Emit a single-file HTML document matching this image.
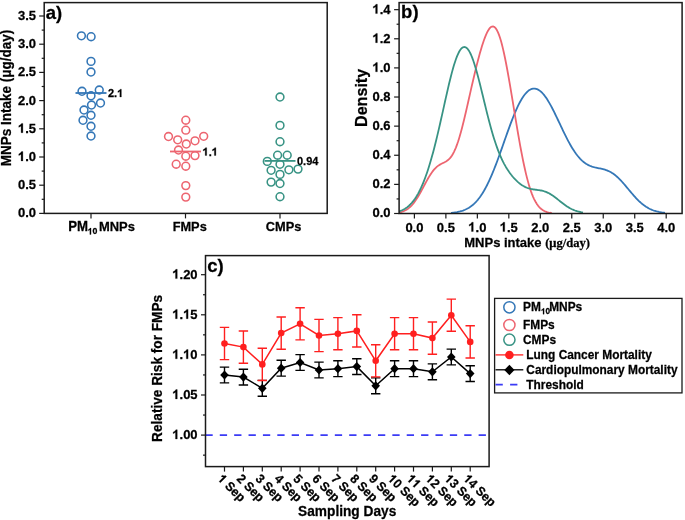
<!DOCTYPE html>
<html><head><meta charset="utf-8"><style>
html,body{margin:0;padding:0;background:#fff;width:685px;height:520px;overflow:hidden}
svg{display:block;filter:blur(0.4px)}
text{fill:#000;stroke:#000;stroke-width:0.25px}
.h{fill-opacity:0;stroke-opacity:0}
</style></head><body>
<svg width="685" height="520" viewBox="0 0 685 520">
<rect width="685" height="520" fill="#fff"/>
<rect x="44.2" y="2.6" width="283.0" height="210.8" fill="none" stroke="#1a1a1a" stroke-width="1.5"/>
<line x1="39.2" y1="213.40" x2="44.2" y2="213.40" stroke="#1a1a1a" stroke-width="1.2"/>
<text transform="translate(36,217.30) scale(1,1.04)" text-anchor="end" font-size="13" font-family="Liberation Sans" font-weight="bold">0.0</text>
<line x1="41.7" y1="199.30" x2="44.2" y2="199.30" stroke="#1a1a1a" stroke-width="1.2"/>
<line x1="39.2" y1="185.20" x2="44.2" y2="185.20" stroke="#1a1a1a" stroke-width="1.2"/>
<text transform="translate(36,189.10) scale(1,1.04)" text-anchor="end" font-size="13" font-family="Liberation Sans" font-weight="bold">0.5</text>
<line x1="41.7" y1="171.10" x2="44.2" y2="171.10" stroke="#1a1a1a" stroke-width="1.2"/>
<line x1="39.2" y1="157.00" x2="44.2" y2="157.00" stroke="#1a1a1a" stroke-width="1.2"/>
<text transform="translate(36,160.90) scale(1,1.04)" text-anchor="end" font-size="13" font-family="Liberation Sans" font-weight="bold"><tspan class="h">1</tspan>.0</text>
<line x1="41.7" y1="142.90" x2="44.2" y2="142.90" stroke="#1a1a1a" stroke-width="1.2"/>
<line x1="39.2" y1="128.80" x2="44.2" y2="128.80" stroke="#1a1a1a" stroke-width="1.2"/>
<text transform="translate(36,132.70) scale(1,1.04)" text-anchor="end" font-size="13" font-family="Liberation Sans" font-weight="bold"><tspan class="h">1</tspan>.5</text>
<line x1="41.7" y1="114.70" x2="44.2" y2="114.70" stroke="#1a1a1a" stroke-width="1.2"/>
<line x1="39.2" y1="100.60" x2="44.2" y2="100.60" stroke="#1a1a1a" stroke-width="1.2"/>
<text transform="translate(36,104.50) scale(1,1.04)" text-anchor="end" font-size="13" font-family="Liberation Sans" font-weight="bold">2.0</text>
<line x1="41.7" y1="86.50" x2="44.2" y2="86.50" stroke="#1a1a1a" stroke-width="1.2"/>
<line x1="39.2" y1="72.40" x2="44.2" y2="72.40" stroke="#1a1a1a" stroke-width="1.2"/>
<text transform="translate(36,76.30) scale(1,1.04)" text-anchor="end" font-size="13" font-family="Liberation Sans" font-weight="bold">2.5</text>
<line x1="41.7" y1="58.30" x2="44.2" y2="58.30" stroke="#1a1a1a" stroke-width="1.2"/>
<line x1="39.2" y1="44.20" x2="44.2" y2="44.20" stroke="#1a1a1a" stroke-width="1.2"/>
<text transform="translate(36,48.10) scale(1,1.04)" text-anchor="end" font-size="13" font-family="Liberation Sans" font-weight="bold">3.0</text>
<line x1="41.7" y1="30.10" x2="44.2" y2="30.10" stroke="#1a1a1a" stroke-width="1.2"/>
<line x1="39.2" y1="16.00" x2="44.2" y2="16.00" stroke="#1a1a1a" stroke-width="1.2"/>
<text transform="translate(36,19.90) scale(1,1.04)" text-anchor="end" font-size="13" font-family="Liberation Sans" font-weight="bold">3.5</text>
<line x1="91" y1="213.4" x2="91" y2="218.4" stroke="#1a1a1a" stroke-width="1.2"/>
<line x1="185.5" y1="213.4" x2="185.5" y2="218.4" stroke="#1a1a1a" stroke-width="1.2"/>
<line x1="280" y1="213.4" x2="280" y2="218.4" stroke="#1a1a1a" stroke-width="1.2"/>
<text transform="translate(68.2,230.9) scale(1,1.04)" font-size="13.2" font-family="Liberation Sans" font-weight="bold">PM</text><text transform="translate(87.7,234.4) scale(1,1.04)" font-size="8.8" font-family="Liberation Sans" font-weight="bold"><tspan class="h">1</tspan>0</text><text transform="translate(98.9,230.9) scale(1,1.04)" font-size="12.95" font-family="Liberation Sans" font-weight="bold">MNPs</text>
<text transform="translate(189.7,231.2) scale(1,1.04)" text-anchor="middle" font-size="12.8" font-family="Liberation Sans" font-weight="bold">FMPs</text>
<text transform="translate(283.6,231.2) scale(1,1.04)" text-anchor="middle" font-size="12.8" font-family="Liberation Sans" font-weight="bold">CMPs</text>
<text transform="translate(11.3,98.1) rotate(-90) scale(1,1.04)" text-anchor="middle" font-size="13.5" font-family="Liberation Sans" font-weight="bold">MNPs Intake (μg/day)</text>
<text transform="translate(45.7,18.6) scale(1,1.04)" font-size="18.5" font-family="Liberation Sans" font-weight="bold">a)</text>
<circle cx="81.4" cy="35.8" r="3.9" fill="none" stroke="#3477b7" stroke-width="1.55"/>
<circle cx="91.1" cy="36.7" r="3.9" fill="none" stroke="#3477b7" stroke-width="1.55"/>
<circle cx="91" cy="61.4" r="3.9" fill="none" stroke="#3477b7" stroke-width="1.55"/>
<circle cx="91" cy="72" r="3.9" fill="none" stroke="#3477b7" stroke-width="1.55"/>
<circle cx="82" cy="91.25" r="3.9" fill="none" stroke="#3477b7" stroke-width="1.55"/>
<circle cx="99.25" cy="90" r="3.9" fill="none" stroke="#3477b7" stroke-width="1.55"/>
<circle cx="91" cy="95.75" r="3.9" fill="none" stroke="#3477b7" stroke-width="1.55"/>
<circle cx="91.5" cy="105" r="3.9" fill="none" stroke="#3477b7" stroke-width="1.55"/>
<circle cx="100.5" cy="103" r="3.9" fill="none" stroke="#3477b7" stroke-width="1.55"/>
<circle cx="84" cy="110" r="3.9" fill="none" stroke="#3477b7" stroke-width="1.55"/>
<circle cx="91" cy="115.25" r="3.9" fill="none" stroke="#3477b7" stroke-width="1.55"/>
<circle cx="83" cy="120.25" r="3.9" fill="none" stroke="#3477b7" stroke-width="1.55"/>
<circle cx="91" cy="126.25" r="3.9" fill="none" stroke="#3477b7" stroke-width="1.55"/>
<circle cx="91" cy="136" r="3.9" fill="none" stroke="#3477b7" stroke-width="1.55"/>
<line x1="75.5" y1="93" x2="106.5" y2="93" stroke="#3477b7" stroke-width="1.8"/>
<text transform="translate(108,97) scale(1,1.04)" font-size="11" font-family="Liberation Sans" font-weight="bold">2.<tspan class="h">1</tspan></text>
<circle cx="185.8" cy="120.2" r="3.9" fill="none" stroke="#ed6570" stroke-width="1.55"/>
<circle cx="185.8" cy="130.2" r="3.9" fill="none" stroke="#ed6570" stroke-width="1.55"/>
<circle cx="168.5" cy="136.5" r="3.9" fill="none" stroke="#ed6570" stroke-width="1.55"/>
<circle cx="203.7" cy="136.3" r="3.9" fill="none" stroke="#ed6570" stroke-width="1.55"/>
<circle cx="177.7" cy="139.8" r="3.9" fill="none" stroke="#ed6570" stroke-width="1.55"/>
<circle cx="195" cy="140.8" r="3.9" fill="none" stroke="#ed6570" stroke-width="1.55"/>
<circle cx="186.3" cy="144" r="3.9" fill="none" stroke="#ed6570" stroke-width="1.55"/>
<circle cx="178.5" cy="150" r="3.9" fill="none" stroke="#ed6570" stroke-width="1.55"/>
<circle cx="185.8" cy="156.2" r="3.9" fill="none" stroke="#ed6570" stroke-width="1.55"/>
<circle cx="195" cy="155.6" r="3.9" fill="none" stroke="#ed6570" stroke-width="1.55"/>
<circle cx="176.2" cy="164.2" r="3.9" fill="none" stroke="#ed6570" stroke-width="1.55"/>
<circle cx="185.8" cy="166.2" r="3.9" fill="none" stroke="#ed6570" stroke-width="1.55"/>
<circle cx="185.8" cy="185.6" r="3.9" fill="none" stroke="#ed6570" stroke-width="1.55"/>
<circle cx="185.8" cy="197.1" r="3.9" fill="none" stroke="#ed6570" stroke-width="1.55"/>
<line x1="170.0" y1="151.5" x2="201.0" y2="151.5" stroke="#ed6570" stroke-width="1.8"/>
<text transform="translate(202.5,155.5) scale(1,1.04)" font-size="11" font-family="Liberation Sans" font-weight="bold"><tspan class="h">1</tspan>.<tspan class="h">1</tspan></text>
<circle cx="280" cy="97" r="3.9" fill="none" stroke="#389384" stroke-width="1.55"/>
<circle cx="280" cy="125.4" r="3.9" fill="none" stroke="#389384" stroke-width="1.55"/>
<circle cx="280" cy="141.7" r="3.9" fill="none" stroke="#389384" stroke-width="1.55"/>
<circle cx="277.6" cy="155.2" r="3.9" fill="none" stroke="#389384" stroke-width="1.55"/>
<circle cx="287.2" cy="155.2" r="3.9" fill="none" stroke="#389384" stroke-width="1.55"/>
<circle cx="267.3" cy="161.4" r="3.9" fill="none" stroke="#389384" stroke-width="1.55"/>
<circle cx="280" cy="164.3" r="3.9" fill="none" stroke="#389384" stroke-width="1.55"/>
<circle cx="271.1" cy="170.3" r="3.9" fill="none" stroke="#389384" stroke-width="1.55"/>
<circle cx="288.9" cy="169.8" r="3.9" fill="none" stroke="#389384" stroke-width="1.55"/>
<circle cx="298" cy="169.1" r="3.9" fill="none" stroke="#389384" stroke-width="1.55"/>
<circle cx="280" cy="174.4" r="3.9" fill="none" stroke="#389384" stroke-width="1.55"/>
<circle cx="271.1" cy="182.1" r="3.9" fill="none" stroke="#389384" stroke-width="1.55"/>
<circle cx="280" cy="183.5" r="3.9" fill="none" stroke="#389384" stroke-width="1.55"/>
<circle cx="280" cy="196.7" r="3.9" fill="none" stroke="#389384" stroke-width="1.55"/>
<line x1="264.5" y1="160.9" x2="295.5" y2="160.9" stroke="#389384" stroke-width="1.8"/>
<text transform="translate(297,164.9) scale(1,1.04)" font-size="11" font-family="Liberation Sans" font-weight="bold">0.94</text>
<defs><clipPath id="cb"><rect x="399.1" y="2.6" width="283" height="210.9"/></clipPath></defs>
<path d="M451.0,212.91 L452.0,212.81 L453.0,212.71 L454.0,212.59 L455.0,212.45 L456.0,212.29 L457.0,212.12 L458.0,211.92 L459.0,211.70 L460.0,211.46 L461.0,211.18 L462.0,210.88 L463.0,210.54 L464.0,210.17 L465.0,209.76 L466.0,209.30 L467.0,208.81 L468.0,208.26 L469.0,207.67 L470.0,207.02 L471.0,206.31 L472.0,205.55 L473.0,204.72 L474.0,203.83 L475.0,202.87 L476.0,201.84 L477.0,200.74 L478.0,199.55 L479.0,198.30 L480.0,196.96 L481.0,195.53 L482.0,194.03 L483.0,192.44 L484.0,190.77 L485.0,189.01 L486.0,187.16 L487.0,185.23 L488.0,183.22 L489.0,181.12 L490.0,178.95 L491.0,176.69 L492.0,174.36 L493.0,171.95 L494.0,169.48 L495.0,166.94 L496.0,164.35 L497.0,161.70 L498.0,159.00 L499.0,156.26 L500.0,153.48 L501.0,150.67 L502.0,147.84 L503.0,145.00 L504.0,142.15 L505.0,139.30 L506.0,136.46 L507.0,133.64 L508.0,130.84 L509.0,128.07 L510.0,125.35 L511.0,122.68 L512.0,120.06 L513.0,117.51 L514.0,115.03 L515.0,112.62 L516.0,110.31 L517.0,108.08 L518.0,105.96 L519.0,103.93 L520.0,102.02 L521.0,100.22 L522.0,98.54 L523.0,96.98 L524.0,95.54 L525.0,94.23 L526.0,93.06 L527.0,92.01 L528.0,91.11 L529.0,90.33 L530.0,89.70 L531.0,89.21 L532.0,88.85 L533.0,88.63 L534.0,88.55 L535.0,88.60 L536.0,88.79 L537.0,89.12 L538.0,89.57 L539.0,90.16 L540.0,90.87 L541.0,91.71 L542.0,92.67 L543.0,93.74 L544.0,94.92 L545.0,96.21 L546.0,97.61 L547.0,99.10 L548.0,100.68 L549.0,102.34 L550.0,104.09 L551.0,105.90 L552.0,107.78 L553.0,109.72 L554.0,111.70 L555.0,113.73 L556.0,115.79 L557.0,117.88 L558.0,119.99 L559.0,122.12 L560.0,124.24 L561.0,126.36 L562.0,128.48 L563.0,130.57 L564.0,132.64 L565.0,134.68 L566.0,136.69 L567.0,138.65 L568.0,140.57 L569.0,142.43 L570.0,144.24 L571.0,145.99 L572.0,147.67 L573.0,149.28 L574.0,150.83 L575.0,152.31 L576.0,153.71 L577.0,155.04 L578.0,156.29 L579.0,157.47 L580.0,158.57 L581.0,159.60 L582.0,160.56 L583.0,161.44 L584.0,162.25 L585.0,163.00 L586.0,163.68 L587.0,164.29 L588.0,164.85 L589.0,165.35 L590.0,165.80 L591.0,166.20 L592.0,166.55 L593.0,166.87 L594.0,167.16 L595.0,167.42 L596.0,167.65 L597.0,167.87 L598.0,168.08 L599.0,168.28 L600.0,168.49 L601.0,168.70 L602.0,168.92 L603.0,169.17 L604.0,169.43 L605.0,169.73 L606.0,170.05 L607.0,170.42 L608.0,170.83 L609.0,171.28 L610.0,171.78 L611.0,172.33 L612.0,172.93 L613.0,173.58 L614.0,174.29 L615.0,175.06 L616.0,175.87 L617.0,176.74 L618.0,177.66 L619.0,178.62 L620.0,179.63 L621.0,180.67 L622.0,181.76 L623.0,182.87 L624.0,184.02 L625.0,185.18 L626.0,186.37 L627.0,187.56 L628.0,188.76 L629.0,189.97 L630.0,191.16 L631.0,192.36 L632.0,193.53 L633.0,194.69 L634.0,195.83 L635.0,196.94 L636.0,198.02 L637.0,199.07 L638.0,200.08 L639.0,201.06 L640.0,201.99 L641.0,202.88 L642.0,203.73 L643.0,204.54 L644.0,205.30 L645.0,206.01 L646.0,206.69 L647.0,207.31 L648.0,207.90 L649.0,208.44 L650.0,208.95 L651.0,209.41 L652.0,209.84 L653.0,210.23 L654.0,210.59 L655.0,210.91 L656.0,211.21 L657.0,211.48 L658.0,211.72 L659.0,211.94 L660.0,212.13 L661.0,212.30 L662.0,212.46 L663.0,212.59 L664.0,212.71 L665.0,212.82" fill="none" stroke="#3477b7" stroke-width="1.8" stroke-linejoin="round" clip-path="url(#cb)"/>
<path d="M399.0,212.53 L400.0,212.32 L401.0,212.06 L402.0,211.76 L403.0,211.41 L404.0,211.00 L405.0,210.53 L406.0,209.99 L407.0,209.37 L408.0,208.68 L409.0,207.90 L410.0,207.04 L411.0,206.08 L412.0,205.02 L413.0,203.87 L414.0,202.62 L415.0,201.27 L416.0,199.84 L417.0,198.31 L418.0,196.70 L419.0,195.02 L420.0,193.27 L421.0,191.47 L422.0,189.63 L423.0,187.76 L424.0,185.88 L425.0,184.00 L426.0,182.14 L427.0,180.31 L428.0,178.54 L429.0,176.83 L430.0,175.19 L431.0,173.65 L432.0,172.21 L433.0,170.87 L434.0,169.65 L435.0,168.54 L436.0,167.55 L437.0,166.66 L438.0,165.88 L439.0,165.19 L440.0,164.59 L441.0,164.04 L442.0,163.54 L443.0,163.05 L444.0,162.57 L445.0,162.06 L446.0,161.49 L447.0,160.84 L448.0,160.08 L449.0,159.18 L450.0,158.12 L451.0,156.88 L452.0,155.44 L453.0,153.77 L454.0,151.87 L455.0,149.73 L456.0,147.34 L457.0,144.69 L458.0,141.80 L459.0,138.68 L460.0,135.32 L461.0,131.76 L462.0,128.00 L463.0,124.07 L464.0,119.99 L465.0,115.80 L466.0,111.50 L467.0,107.13 L468.0,102.72 L469.0,98.28 L470.0,93.84 L471.0,89.41 L472.0,85.03 L473.0,80.69 L474.0,76.42 L475.0,72.23 L476.0,68.13 L477.0,64.13 L478.0,60.25 L479.0,56.49 L480.0,52.86 L481.0,49.39 L482.0,46.08 L483.0,42.95 L484.0,40.03 L485.0,37.32 L486.0,34.86 L487.0,32.66 L488.0,30.76 L489.0,29.17 L490.0,27.92 L491.0,27.04 L492.0,26.54 L493.0,26.44 L494.0,26.76 L495.0,27.50 L496.0,28.69 L497.0,30.31 L498.0,32.37 L499.0,34.86 L500.0,37.77 L501.0,41.09 L502.0,44.79 L503.0,48.86 L504.0,53.27 L505.0,57.99 L506.0,63.00 L507.0,68.25 L508.0,73.72 L509.0,79.38 L510.0,85.19 L511.0,91.12 L512.0,97.14 L513.0,103.21 L514.0,109.29 L515.0,115.37 L516.0,121.40 L517.0,127.37 L518.0,133.23 L519.0,138.97 L520.0,144.56 L521.0,149.97 L522.0,155.20 L523.0,160.21 L524.0,164.99 L525.0,169.54 L526.0,173.83 L527.0,177.86 L528.0,181.63 L529.0,185.14 L530.0,188.38 L531.0,191.35 L532.0,194.07 L533.0,196.55 L534.0,198.78 L535.0,200.78 L536.0,202.57 L537.0,204.16 L538.0,205.56 L539.0,206.78 L540.0,207.85 L541.0,208.77 L542.0,209.57 L543.0,210.25 L544.0,210.82 L545.0,211.31 L546.0,211.72 L547.0,212.06 L548.0,212.34 L549.0,212.57 L550.0,212.76 L551.0,212.92 L552.0,213.04" fill="none" stroke="#ed6570" stroke-width="1.8" stroke-linejoin="round" clip-path="url(#cb)"/>
<path d="M399.0,211.41 L400.0,211.08 L401.0,210.71 L402.0,210.29 L403.0,209.82 L404.0,209.30 L405.0,208.72 L406.0,208.07 L407.0,207.36 L408.0,206.57 L409.0,205.71 L410.0,204.77 L411.0,203.74 L412.0,202.62 L413.0,201.41 L414.0,200.11 L415.0,198.70 L416.0,197.18 L417.0,195.56 L418.0,193.83 L419.0,191.98 L420.0,190.01 L421.0,187.92 L422.0,185.70 L423.0,183.36 L424.0,180.89 L425.0,178.29 L426.0,175.55 L427.0,172.68 L428.0,169.68 L429.0,166.55 L430.0,163.28 L431.0,159.87 L432.0,156.34 L433.0,152.68 L434.0,148.90 L435.0,145.00 L436.0,140.99 L437.0,136.87 L438.0,132.66 L439.0,128.36 L440.0,123.99 L441.0,119.56 L442.0,115.09 L443.0,110.58 L444.0,106.07 L445.0,101.57 L446.0,97.10 L447.0,92.68 L448.0,88.33 L449.0,84.08 L450.0,79.95 L451.0,75.96 L452.0,72.14 L453.0,68.52 L454.0,65.11 L455.0,61.94 L456.0,59.02 L457.0,56.39 L458.0,54.05 L459.0,52.02 L460.0,50.33 L461.0,48.97 L462.0,47.96 L463.0,47.30 L464.0,47.00 L465.0,47.07 L466.0,47.49 L467.0,48.27 L468.0,49.40 L469.0,50.86 L470.0,52.65 L471.0,54.75 L472.0,57.15 L473.0,59.82 L474.0,62.74 L475.0,65.90 L476.0,69.26 L477.0,72.81 L478.0,76.52 L479.0,80.37 L480.0,84.32 L481.0,88.35 L482.0,92.44 L483.0,96.56 L484.0,100.70 L485.0,104.82 L486.0,108.90 L487.0,112.93 L488.0,116.90 L489.0,120.77 L490.0,124.55 L491.0,128.21 L492.0,131.75 L493.0,135.16 L494.0,138.44 L495.0,141.57 L496.0,144.56 L497.0,147.41 L498.0,150.12 L499.0,152.69 L500.0,155.13 L501.0,157.43 L502.0,159.60 L503.0,161.66 L504.0,163.60 L505.0,165.43 L506.0,167.17 L507.0,168.81 L508.0,170.36 L509.0,171.83 L510.0,173.22 L511.0,174.54 L512.0,175.80 L513.0,176.99 L514.0,178.12 L515.0,179.19 L516.0,180.21 L517.0,181.17 L518.0,182.07 L519.0,182.92 L520.0,183.71 L521.0,184.45 L522.0,185.14 L523.0,185.77 L524.0,186.34 L525.0,186.86 L526.0,187.33 L527.0,187.75 L528.0,188.12 L529.0,188.44 L530.0,188.72 L531.0,188.96 L532.0,189.16 L533.0,189.34 L534.0,189.49 L535.0,189.63 L536.0,189.76 L537.0,189.89 L538.0,190.02 L539.0,190.16 L540.0,190.32 L541.0,190.50 L542.0,190.71 L543.0,190.95 L544.0,191.24 L545.0,191.56 L546.0,191.93 L547.0,192.35 L548.0,192.81 L549.0,193.32 L550.0,193.88 L551.0,194.48 L552.0,195.12 L553.0,195.80 L554.0,196.51 L555.0,197.25 L556.0,198.01 L557.0,198.79 L558.0,199.59 L559.0,200.38 L560.0,201.18 L561.0,201.98 L562.0,202.77 L563.0,203.54 L564.0,204.29 L565.0,205.02 L566.0,205.72 L567.0,206.39 L568.0,207.03 L569.0,207.64 L570.0,208.21 L571.0,208.74 L572.0,209.24 L573.0,209.70 L574.0,210.13 L575.0,210.52 L576.0,210.87 L577.0,211.20 L578.0,211.49 L579.0,211.75 L580.0,211.98 L581.0,212.19 L582.0,212.37 L583.0,212.54" fill="none" stroke="#389384" stroke-width="1.8" stroke-linejoin="round" clip-path="url(#cb)"/>
<rect x="399.1" y="2.6" width="283.0" height="210.9" fill="none" stroke="#1a1a1a" stroke-width="1.5"/>
<line x1="394.1" y1="213.50" x2="399.1" y2="213.50" stroke="#1a1a1a" stroke-width="1.2"/>
<text transform="translate(390.5,217.40) scale(1,1.04)" text-anchor="end" font-size="13" font-family="Liberation Sans" font-weight="bold">0.0</text>
<line x1="396.6" y1="198.94" x2="399.1" y2="198.94" stroke="#1a1a1a" stroke-width="1.2"/>
<line x1="394.1" y1="184.38" x2="399.1" y2="184.38" stroke="#1a1a1a" stroke-width="1.2"/>
<text transform="translate(390.5,188.28) scale(1,1.04)" text-anchor="end" font-size="13" font-family="Liberation Sans" font-weight="bold">0.2</text>
<line x1="396.6" y1="169.82" x2="399.1" y2="169.82" stroke="#1a1a1a" stroke-width="1.2"/>
<line x1="394.1" y1="155.26" x2="399.1" y2="155.26" stroke="#1a1a1a" stroke-width="1.2"/>
<text transform="translate(390.5,159.16) scale(1,1.04)" text-anchor="end" font-size="13" font-family="Liberation Sans" font-weight="bold">0.4</text>
<line x1="396.6" y1="140.70" x2="399.1" y2="140.70" stroke="#1a1a1a" stroke-width="1.2"/>
<line x1="394.1" y1="126.14" x2="399.1" y2="126.14" stroke="#1a1a1a" stroke-width="1.2"/>
<text transform="translate(390.5,130.04) scale(1,1.04)" text-anchor="end" font-size="13" font-family="Liberation Sans" font-weight="bold">0.6</text>
<line x1="396.6" y1="111.58" x2="399.1" y2="111.58" stroke="#1a1a1a" stroke-width="1.2"/>
<line x1="394.1" y1="97.02" x2="399.1" y2="97.02" stroke="#1a1a1a" stroke-width="1.2"/>
<text transform="translate(390.5,100.92) scale(1,1.04)" text-anchor="end" font-size="13" font-family="Liberation Sans" font-weight="bold">0.8</text>
<line x1="396.6" y1="82.46" x2="399.1" y2="82.46" stroke="#1a1a1a" stroke-width="1.2"/>
<line x1="394.1" y1="67.90" x2="399.1" y2="67.90" stroke="#1a1a1a" stroke-width="1.2"/>
<text transform="translate(390.5,71.80) scale(1,1.04)" text-anchor="end" font-size="13" font-family="Liberation Sans" font-weight="bold"><tspan class="h">1</tspan>.0</text>
<line x1="396.6" y1="53.34" x2="399.1" y2="53.34" stroke="#1a1a1a" stroke-width="1.2"/>
<line x1="394.1" y1="38.78" x2="399.1" y2="38.78" stroke="#1a1a1a" stroke-width="1.2"/>
<text transform="translate(390.5,42.68) scale(1,1.04)" text-anchor="end" font-size="13" font-family="Liberation Sans" font-weight="bold"><tspan class="h">1</tspan>.2</text>
<line x1="396.6" y1="24.22" x2="399.1" y2="24.22" stroke="#1a1a1a" stroke-width="1.2"/>
<line x1="394.1" y1="9.66" x2="399.1" y2="9.66" stroke="#1a1a1a" stroke-width="1.2"/>
<text transform="translate(390.5,13.56) scale(1,1.04)" text-anchor="end" font-size="13" font-family="Liberation Sans" font-weight="bold"><tspan class="h">1</tspan>.4</text>
<line x1="414.40" y1="213.5" x2="414.40" y2="218.5" stroke="#1a1a1a" stroke-width="1.2"/>
<text transform="translate(414.40,231.5) scale(1,1.04)" text-anchor="middle" font-size="13" font-family="Liberation Sans" font-weight="bold">0.0</text>
<line x1="445.88" y1="213.5" x2="445.88" y2="218.5" stroke="#1a1a1a" stroke-width="1.2"/>
<text transform="translate(445.88,231.5) scale(1,1.04)" text-anchor="middle" font-size="13" font-family="Liberation Sans" font-weight="bold">0.5</text>
<line x1="477.35" y1="213.5" x2="477.35" y2="218.5" stroke="#1a1a1a" stroke-width="1.2"/>
<text transform="translate(477.35,231.5) scale(1,1.04)" text-anchor="middle" font-size="13" font-family="Liberation Sans" font-weight="bold"><tspan class="h">1</tspan>.0</text>
<line x1="508.82" y1="213.5" x2="508.82" y2="218.5" stroke="#1a1a1a" stroke-width="1.2"/>
<text transform="translate(508.82,231.5) scale(1,1.04)" text-anchor="middle" font-size="13" font-family="Liberation Sans" font-weight="bold"><tspan class="h">1</tspan>.5</text>
<line x1="540.30" y1="213.5" x2="540.30" y2="218.5" stroke="#1a1a1a" stroke-width="1.2"/>
<text transform="translate(540.30,231.5) scale(1,1.04)" text-anchor="middle" font-size="13" font-family="Liberation Sans" font-weight="bold">2.0</text>
<line x1="571.77" y1="213.5" x2="571.77" y2="218.5" stroke="#1a1a1a" stroke-width="1.2"/>
<text transform="translate(571.77,231.5) scale(1,1.04)" text-anchor="middle" font-size="13" font-family="Liberation Sans" font-weight="bold">2.5</text>
<line x1="603.25" y1="213.5" x2="603.25" y2="218.5" stroke="#1a1a1a" stroke-width="1.2"/>
<text transform="translate(603.25,231.5) scale(1,1.04)" text-anchor="middle" font-size="13" font-family="Liberation Sans" font-weight="bold">3.0</text>
<line x1="634.73" y1="213.5" x2="634.73" y2="218.5" stroke="#1a1a1a" stroke-width="1.2"/>
<text transform="translate(634.73,231.5) scale(1,1.04)" text-anchor="middle" font-size="13" font-family="Liberation Sans" font-weight="bold">3.5</text>
<line x1="666.20" y1="213.5" x2="666.20" y2="218.5" stroke="#1a1a1a" stroke-width="1.2"/>
<text transform="translate(666.20,231.5) scale(1,1.04)" text-anchor="middle" font-size="13" font-family="Liberation Sans" font-weight="bold">4.0</text>
<text transform="translate(464.3,246.6) scale(1,1.04)" font-size="13" font-family="Liberation Sans" font-weight="bold">MNPs intake <tspan font-family="Liberation Serif" font-size="12.6">(μg/day)</tspan></text>
<text transform="translate(367.3,97.9) rotate(-90) scale(1,1.04)" text-anchor="middle" font-size="16.1" font-family="Liberation Sans" font-weight="bold">Density</text>
<text transform="translate(401.1,18.4) scale(1,1.04)" font-size="18.5" font-family="Liberation Sans" font-weight="bold">b)</text>
<line x1="205.5" y1="435.1" x2="489.1" y2="435.1" stroke="#3b3bf5" stroke-width="1.8" stroke-dasharray="7.3 7.08" stroke-dashoffset="0.1"/>
<path d="M224.50,367.10 V382.90 M219.80,367.10 H229.20 M219.80,382.90 H229.20" stroke="#000" stroke-width="1.4" fill="none"/>
<path d="M243.40,369.20 V385.00 M238.70,369.20 H248.10 M238.70,385.00 H248.10" stroke="#000" stroke-width="1.4" fill="none"/>
<path d="M262.30,380.40 V396.20 M257.60,380.40 H267.00 M257.60,396.20 H267.00" stroke="#000" stroke-width="1.4" fill="none"/>
<path d="M281.20,360.30 V376.10 M276.50,360.30 H285.90 M276.50,376.10 H285.90" stroke="#000" stroke-width="1.4" fill="none"/>
<path d="M300.10,354.60 V370.40 M295.40,354.60 H304.80 M295.40,370.40 H304.80" stroke="#000" stroke-width="1.4" fill="none"/>
<path d="M319.00,362.10 V377.90 M314.30,362.10 H323.70 M314.30,377.90 H323.70" stroke="#000" stroke-width="1.4" fill="none"/>
<path d="M337.90,360.80 V376.60 M333.20,360.80 H342.60 M333.20,376.60 H342.60" stroke="#000" stroke-width="1.4" fill="none"/>
<path d="M356.80,358.70 V374.50 M352.10,358.70 H361.50 M352.10,374.50 H361.50" stroke="#000" stroke-width="1.4" fill="none"/>
<path d="M375.70,377.90 V393.70 M371.00,377.90 H380.40 M371.00,393.70 H380.40" stroke="#000" stroke-width="1.4" fill="none"/>
<path d="M394.60,360.80 V376.60 M389.90,360.80 H399.30 M389.90,376.60 H399.30" stroke="#000" stroke-width="1.4" fill="none"/>
<path d="M413.50,360.80 V376.60 M408.80,360.80 H418.20 M408.80,376.60 H418.20" stroke="#000" stroke-width="1.4" fill="none"/>
<path d="M432.40,363.90 V379.70 M427.70,363.90 H437.10 M427.70,379.70 H437.10" stroke="#000" stroke-width="1.4" fill="none"/>
<path d="M451.30,349.10 V364.90 M446.60,349.10 H456.00 M446.60,364.90 H456.00" stroke="#000" stroke-width="1.4" fill="none"/>
<path d="M470.20,365.70 V381.50 M465.50,365.70 H474.90 M465.50,381.50 H474.90" stroke="#000" stroke-width="1.4" fill="none"/>
<polyline points="224.50,375 243.40,377.1 262.30,388.3 281.20,368.2 300.10,362.5 319.00,370 337.90,368.7 356.80,366.6 375.70,385.8 394.60,368.7 413.50,368.7 432.40,371.8 451.30,357 470.20,373.6" fill="none" stroke="#000" stroke-width="1.5"/>
<path d="M224.50,370.40 L228.80,375 L224.50,379.60 L220.20,375 Z" fill="#000"/>
<path d="M243.40,372.50 L247.70,377.1 L243.40,381.70 L239.10,377.1 Z" fill="#000"/>
<path d="M262.30,383.70 L266.60,388.3 L262.30,392.90 L258.00,388.3 Z" fill="#000"/>
<path d="M281.20,363.60 L285.50,368.2 L281.20,372.80 L276.90,368.2 Z" fill="#000"/>
<path d="M300.10,357.90 L304.40,362.5 L300.10,367.10 L295.80,362.5 Z" fill="#000"/>
<path d="M319.00,365.40 L323.30,370 L319.00,374.60 L314.70,370 Z" fill="#000"/>
<path d="M337.90,364.10 L342.20,368.7 L337.90,373.30 L333.60,368.7 Z" fill="#000"/>
<path d="M356.80,362.00 L361.10,366.6 L356.80,371.20 L352.50,366.6 Z" fill="#000"/>
<path d="M375.70,381.20 L380.00,385.8 L375.70,390.40 L371.40,385.8 Z" fill="#000"/>
<path d="M394.60,364.10 L398.90,368.7 L394.60,373.30 L390.30,368.7 Z" fill="#000"/>
<path d="M413.50,364.10 L417.80,368.7 L413.50,373.30 L409.20,368.7 Z" fill="#000"/>
<path d="M432.40,367.20 L436.70,371.8 L432.40,376.40 L428.10,371.8 Z" fill="#000"/>
<path d="M451.30,352.40 L455.60,357 L451.30,361.60 L447.00,357 Z" fill="#000"/>
<path d="M470.20,369.00 L474.50,373.6 L470.20,378.20 L465.90,373.6 Z" fill="#000"/>
<path d="M224.50,327.40 V359.60 M219.80,327.40 H229.20 M219.80,359.60 H229.20" stroke="#ff1f1f" stroke-width="1.4" fill="none"/>
<path d="M243.40,331.00 V363.20 M238.70,331.00 H248.10 M238.70,363.20 H248.10" stroke="#ff1f1f" stroke-width="1.4" fill="none"/>
<path d="M262.30,348.30 V380.50 M257.60,348.30 H267.00 M257.60,380.50 H267.00" stroke="#ff1f1f" stroke-width="1.4" fill="none"/>
<path d="M281.20,317.00 V349.20 M276.50,317.00 H285.90 M276.50,349.20 H285.90" stroke="#ff1f1f" stroke-width="1.4" fill="none"/>
<path d="M300.10,307.70 V339.90 M295.40,307.70 H304.80 M295.40,339.90 H304.80" stroke="#ff1f1f" stroke-width="1.4" fill="none"/>
<path d="M319.00,319.40 V351.60 M314.30,319.40 H323.70 M314.30,351.60 H323.70" stroke="#ff1f1f" stroke-width="1.4" fill="none"/>
<path d="M337.90,317.60 V349.80 M333.20,317.60 H342.60 M333.20,349.80 H342.60" stroke="#ff1f1f" stroke-width="1.4" fill="none"/>
<path d="M356.80,314.80 V347.00 M352.10,314.80 H361.50 M352.10,347.00 H361.50" stroke="#ff1f1f" stroke-width="1.4" fill="none"/>
<path d="M375.70,344.70 V376.90 M371.00,344.70 H380.40 M371.00,376.90 H380.40" stroke="#ff1f1f" stroke-width="1.4" fill="none"/>
<path d="M394.60,317.60 V349.80 M389.90,317.60 H399.30 M389.90,349.80 H399.30" stroke="#ff1f1f" stroke-width="1.4" fill="none"/>
<path d="M413.50,317.60 V349.80 M408.80,317.60 H418.20 M408.80,349.80 H418.20" stroke="#ff1f1f" stroke-width="1.4" fill="none"/>
<path d="M432.40,322.00 V354.20 M427.70,322.00 H437.10 M427.70,354.20 H437.10" stroke="#ff1f1f" stroke-width="1.4" fill="none"/>
<path d="M451.30,299.10 V331.30 M446.60,299.10 H456.00 M446.60,331.30 H456.00" stroke="#ff1f1f" stroke-width="1.4" fill="none"/>
<path d="M470.20,325.80 V358.00 M465.50,325.80 H474.90 M465.50,358.00 H474.90" stroke="#ff1f1f" stroke-width="1.4" fill="none"/>
<polyline points="224.50,343.5 243.40,347.1 262.30,364.4 281.20,333.1 300.10,323.8 319.00,335.5 337.90,333.7 356.80,330.9 375.70,360.8 394.60,333.7 413.50,333.7 432.40,338.1 451.30,315.2 470.20,341.9" fill="none" stroke="#ff1f1f" stroke-width="1.5"/>
<circle cx="224.50" cy="343.5" r="3.3" fill="#ff1f1f"/>
<circle cx="243.40" cy="347.1" r="3.3" fill="#ff1f1f"/>
<circle cx="262.30" cy="364.4" r="3.3" fill="#ff1f1f"/>
<circle cx="281.20" cy="333.1" r="3.3" fill="#ff1f1f"/>
<circle cx="300.10" cy="323.8" r="3.3" fill="#ff1f1f"/>
<circle cx="319.00" cy="335.5" r="3.3" fill="#ff1f1f"/>
<circle cx="337.90" cy="333.7" r="3.3" fill="#ff1f1f"/>
<circle cx="356.80" cy="330.9" r="3.3" fill="#ff1f1f"/>
<circle cx="375.70" cy="360.8" r="3.3" fill="#ff1f1f"/>
<circle cx="394.60" cy="333.7" r="3.3" fill="#ff1f1f"/>
<circle cx="413.50" cy="333.7" r="3.3" fill="#ff1f1f"/>
<circle cx="432.40" cy="338.1" r="3.3" fill="#ff1f1f"/>
<circle cx="451.30" cy="315.2" r="3.3" fill="#ff1f1f"/>
<circle cx="470.20" cy="341.9" r="3.3" fill="#ff1f1f"/>
<rect x="205.5" y="255.6" width="283.6" height="211.00000000000003" fill="none" stroke="#1a1a1a" stroke-width="1.5"/>
<line x1="201.0" y1="435.10" x2="205.5" y2="435.10" stroke="#1a1a1a" stroke-width="1.2"/>
<text transform="translate(197.6,439.00) scale(1,1.04)" text-anchor="end" font-size="13" font-family="Liberation Sans" font-weight="bold"><tspan class="h">1</tspan>.00</text>
<line x1="201.0" y1="395.00" x2="205.5" y2="395.00" stroke="#1a1a1a" stroke-width="1.2"/>
<text transform="translate(197.6,398.90) scale(1,1.04)" text-anchor="end" font-size="13" font-family="Liberation Sans" font-weight="bold"><tspan class="h">1</tspan>.05</text>
<line x1="201.0" y1="354.90" x2="205.5" y2="354.90" stroke="#1a1a1a" stroke-width="1.2"/>
<text transform="translate(197.6,358.80) scale(1,1.04)" text-anchor="end" font-size="13" font-family="Liberation Sans" font-weight="bold"><tspan class="h">1</tspan>.<tspan class="h">1</tspan>0</text>
<line x1="201.0" y1="314.80" x2="205.5" y2="314.80" stroke="#1a1a1a" stroke-width="1.2"/>
<text transform="translate(197.6,318.70) scale(1,1.04)" text-anchor="end" font-size="13" font-family="Liberation Sans" font-weight="bold"><tspan class="h">1</tspan>.<tspan class="h">1</tspan>5</text>
<line x1="201.0" y1="274.70" x2="205.5" y2="274.70" stroke="#1a1a1a" stroke-width="1.2"/>
<text transform="translate(197.6,278.60) scale(1,1.04)" text-anchor="end" font-size="13" font-family="Liberation Sans" font-weight="bold"><tspan class="h">1</tspan>.20</text>
<line x1="203.0" y1="455.15" x2="205.5" y2="455.15" stroke="#1a1a1a" stroke-width="1.2"/>
<line x1="203.0" y1="415.05" x2="205.5" y2="415.05" stroke="#1a1a1a" stroke-width="1.2"/>
<line x1="203.0" y1="374.95" x2="205.5" y2="374.95" stroke="#1a1a1a" stroke-width="1.2"/>
<line x1="203.0" y1="334.85" x2="205.5" y2="334.85" stroke="#1a1a1a" stroke-width="1.2"/>
<line x1="203.0" y1="294.75" x2="205.5" y2="294.75" stroke="#1a1a1a" stroke-width="1.2"/>
<line x1="224.50" y1="466.6" x2="224.50" y2="471.6" stroke="#1a1a1a" stroke-width="1.2"/>
<text transform="translate(217.00,479.40000000000003) rotate(45) scale(1,1.04)" font-size="12.3" font-family="Liberation Sans" font-weight="bold"><tspan class="h">1</tspan> Sep</text>
<line x1="243.40" y1="466.6" x2="243.40" y2="471.6" stroke="#1a1a1a" stroke-width="1.2"/>
<text transform="translate(235.90,479.40000000000003) rotate(45) scale(1,1.04)" font-size="12.3" font-family="Liberation Sans" font-weight="bold">2 Sep</text>
<line x1="262.30" y1="466.6" x2="262.30" y2="471.6" stroke="#1a1a1a" stroke-width="1.2"/>
<text transform="translate(254.80,479.40000000000003) rotate(45) scale(1,1.04)" font-size="12.3" font-family="Liberation Sans" font-weight="bold">3 Sep</text>
<line x1="281.20" y1="466.6" x2="281.20" y2="471.6" stroke="#1a1a1a" stroke-width="1.2"/>
<text transform="translate(273.70,479.40000000000003) rotate(45) scale(1,1.04)" font-size="12.3" font-family="Liberation Sans" font-weight="bold">4 Sep</text>
<line x1="300.10" y1="466.6" x2="300.10" y2="471.6" stroke="#1a1a1a" stroke-width="1.2"/>
<text transform="translate(292.60,479.40000000000003) rotate(45) scale(1,1.04)" font-size="12.3" font-family="Liberation Sans" font-weight="bold">5 Sep</text>
<line x1="319.00" y1="466.6" x2="319.00" y2="471.6" stroke="#1a1a1a" stroke-width="1.2"/>
<text transform="translate(311.50,479.40000000000003) rotate(45) scale(1,1.04)" font-size="12.3" font-family="Liberation Sans" font-weight="bold">6 Sep</text>
<line x1="337.90" y1="466.6" x2="337.90" y2="471.6" stroke="#1a1a1a" stroke-width="1.2"/>
<text transform="translate(330.40,479.40000000000003) rotate(45) scale(1,1.04)" font-size="12.3" font-family="Liberation Sans" font-weight="bold">7 Sep</text>
<line x1="356.80" y1="466.6" x2="356.80" y2="471.6" stroke="#1a1a1a" stroke-width="1.2"/>
<text transform="translate(349.30,479.40000000000003) rotate(45) scale(1,1.04)" font-size="12.3" font-family="Liberation Sans" font-weight="bold">8 Sep</text>
<line x1="375.70" y1="466.6" x2="375.70" y2="471.6" stroke="#1a1a1a" stroke-width="1.2"/>
<text transform="translate(368.20,479.40000000000003) rotate(45) scale(1,1.04)" font-size="12.3" font-family="Liberation Sans" font-weight="bold">9 Sep</text>
<line x1="394.60" y1="466.6" x2="394.60" y2="471.6" stroke="#1a1a1a" stroke-width="1.2"/>
<text transform="translate(387.10,479.40000000000003) rotate(45) scale(1,1.04)" font-size="12.3" font-family="Liberation Sans" font-weight="bold"><tspan class="h">1</tspan>0 Sep</text>
<line x1="413.50" y1="466.6" x2="413.50" y2="471.6" stroke="#1a1a1a" stroke-width="1.2"/>
<text transform="translate(406.00,479.40000000000003) rotate(45) scale(1,1.04)" font-size="12.3" font-family="Liberation Sans" font-weight="bold"><tspan class="h">1</tspan><tspan class="h">1</tspan> Sep</text>
<line x1="432.40" y1="466.6" x2="432.40" y2="471.6" stroke="#1a1a1a" stroke-width="1.2"/>
<text transform="translate(424.90,479.40000000000003) rotate(45) scale(1,1.04)" font-size="12.3" font-family="Liberation Sans" font-weight="bold"><tspan class="h">1</tspan>2 Sep</text>
<line x1="451.30" y1="466.6" x2="451.30" y2="471.6" stroke="#1a1a1a" stroke-width="1.2"/>
<text transform="translate(443.80,479.40000000000003) rotate(45) scale(1,1.04)" font-size="12.3" font-family="Liberation Sans" font-weight="bold"><tspan class="h">1</tspan>3 Sep</text>
<line x1="470.20" y1="466.6" x2="470.20" y2="471.6" stroke="#1a1a1a" stroke-width="1.2"/>
<text transform="translate(462.70,479.40000000000003) rotate(45) scale(1,1.04)" font-size="12.3" font-family="Liberation Sans" font-weight="bold"><tspan class="h">1</tspan>4 Sep</text>
<text transform="translate(347.2,515.8) scale(1,1.04)" text-anchor="middle" font-size="13.7" font-family="Liberation Sans" font-weight="bold">Sampling Days</text>
<text transform="translate(161.8,368.4) rotate(-90) scale(1,1.04)" text-anchor="middle" font-size="13.65" font-family="Liberation Sans" font-weight="bold">Relative Risk for FMPs</text>
<text transform="translate(207.2,271.8) scale(1,1.04)" font-size="18.5" font-family="Liberation Sans" font-weight="bold">c)</text>
<rect x="494.6" y="298.4" width="187.4" height="94.5" fill="none" stroke="#1a1a1a" stroke-width="1.3"/>
<circle cx="509.4" cy="307.3" r="5.6" fill="none" stroke="#3477b7" stroke-width="1.5"/>
<circle cx="509.4" cy="325" r="5.6" fill="none" stroke="#ed6570" stroke-width="1.5"/>
<circle cx="509.4" cy="339.7" r="5.6" fill="none" stroke="#389384" stroke-width="1.5"/>
<text transform="translate(523,311.1) scale(1,1.04)" font-size="11.9" font-family="Liberation Sans" font-weight="bold">PM</text><text transform="translate(541.0,314.2) scale(1,1.04)" font-size="8.2" font-family="Liberation Sans" font-weight="bold"><tspan class="h">1</tspan>0</text><text transform="translate(549.2,311.1) scale(1,1.04)" font-size="11.9" font-family="Liberation Sans" font-weight="bold">MNPs</text>
<text transform="translate(523,328.9) scale(1,1.04)" font-size="11.9" font-family="Liberation Sans" font-weight="bold">FMPs</text>
<text transform="translate(523,343.5) scale(1,1.04)" font-size="11.9" font-family="Liberation Sans" font-weight="bold">CMPs</text>
<line x1="495.5" y1="354.9" x2="523.3" y2="354.9" stroke="#ff1f1f" stroke-width="1.3"/>
<circle cx="509.4" cy="355" r="4.3" fill="#ff1f1f"/>
<line x1="495.5" y1="369.8" x2="523.3" y2="369.8" stroke="#000" stroke-width="1.3"/>
<path d="M509.4,364.7 L514.5,370 L509.4,375.3 L504.3,370 Z" fill="#000"/>
<line x1="495.5" y1="384.7" x2="517.4" y2="384.7" stroke="#3b3bf5" stroke-width="1.8" stroke-dasharray="7.3 7.3"/>
<text transform="translate(526.3,358.9) scale(1,1.04)" font-size="11.9" font-family="Liberation Sans" font-weight="bold">Lung Cancer Mortality</text>
<text transform="translate(526.3,373.5) scale(1,1.04)" font-size="11.9" font-family="Liberation Sans" font-weight="bold">Cardiopulmonary Mortality</text>
<text transform="translate(526.3,388.5) scale(1,1.04)" font-size="11.9" font-family="Liberation Sans" font-weight="bold">Threshold</text>
<path transform="translate(36,160.90) scale(1,1.04) translate(-18.073,0.000) scale(0.006348)" d="M780,0 L499,0 L499,-1018 Q345,-879 136,-813 L136,-1058 Q246,-1093 372,-1187 Q498,-1281 567,-1409 L780,-1409Z" fill="#000" stroke="#000" stroke-width="39.4"/>
<path transform="translate(36,132.70) scale(1,1.04) translate(-18.073,0.000) scale(0.006348)" d="M780,0 L499,0 L499,-1018 Q345,-879 136,-813 L136,-1058 Q246,-1093 372,-1187 Q498,-1281 567,-1409 L780,-1409Z" fill="#000" stroke="#000" stroke-width="39.4"/>
<path transform="translate(87.7,234.4) scale(1,1.04) translate(0.000,0.000) scale(0.004297)" d="M780,0 L499,0 L499,-1018 Q345,-879 136,-813 L136,-1058 Q246,-1093 372,-1187 Q498,-1281 567,-1409 L780,-1409Z" fill="#000" stroke="#000" stroke-width="58.2"/>
<path transform="translate(108,97) scale(1,1.04) translate(9.174,0.000) scale(0.005371)" d="M780,0 L499,0 L499,-1018 Q345,-879 136,-813 L136,-1058 Q246,-1093 372,-1187 Q498,-1281 567,-1409 L780,-1409Z" fill="#000" stroke="#000" stroke-width="46.5"/>
<path transform="translate(202.5,155.5) scale(1,1.04) translate(0.000,0.000) scale(0.005371)" d="M780,0 L499,0 L499,-1018 Q345,-879 136,-813 L136,-1058 Q246,-1093 372,-1187 Q498,-1281 567,-1409 L780,-1409Z" fill="#000" stroke="#000" stroke-width="46.5"/>
<path transform="translate(202.5,155.5) scale(1,1.04) translate(9.189,0.000) scale(0.005371)" d="M780,0 L499,0 L499,-1018 Q345,-879 136,-813 L136,-1058 Q246,-1093 372,-1187 Q498,-1281 567,-1409 L780,-1409Z" fill="#000" stroke="#000" stroke-width="46.5"/>
<path transform="translate(390.5,71.80) scale(1,1.04) translate(-18.073,0.000) scale(0.006348)" d="M780,0 L499,0 L499,-1018 Q345,-879 136,-813 L136,-1058 Q246,-1093 372,-1187 Q498,-1281 567,-1409 L780,-1409Z" fill="#000" stroke="#000" stroke-width="39.4"/>
<path transform="translate(390.5,42.68) scale(1,1.04) translate(-18.073,0.000) scale(0.006348)" d="M780,0 L499,0 L499,-1018 Q345,-879 136,-813 L136,-1058 Q246,-1093 372,-1187 Q498,-1281 567,-1409 L780,-1409Z" fill="#000" stroke="#000" stroke-width="39.4"/>
<path transform="translate(390.5,13.56) scale(1,1.04) translate(-18.073,0.000) scale(0.006348)" d="M780,0 L499,0 L499,-1018 Q345,-879 136,-813 L136,-1058 Q246,-1093 372,-1187 Q498,-1281 567,-1409 L780,-1409Z" fill="#000" stroke="#000" stroke-width="39.4"/>
<path transform="translate(477.35,231.5) scale(1,1.04) translate(-9.036,0.000) scale(0.006348)" d="M780,0 L499,0 L499,-1018 Q345,-879 136,-813 L136,-1058 Q246,-1093 372,-1187 Q498,-1281 567,-1409 L780,-1409Z" fill="#000" stroke="#000" stroke-width="39.4"/>
<path transform="translate(508.82,231.5) scale(1,1.04) translate(-9.036,0.000) scale(0.006348)" d="M780,0 L499,0 L499,-1018 Q345,-879 136,-813 L136,-1058 Q246,-1093 372,-1187 Q498,-1281 567,-1409 L780,-1409Z" fill="#000" stroke="#000" stroke-width="39.4"/>
<path transform="translate(197.6,439.00) scale(1,1.04) translate(-25.286,0.000) scale(0.006348)" d="M780,0 L499,0 L499,-1018 Q345,-879 136,-813 L136,-1058 Q246,-1093 372,-1187 Q498,-1281 567,-1409 L780,-1409Z" fill="#000" stroke="#000" stroke-width="39.4"/>
<path transform="translate(197.6,398.90) scale(1,1.04) translate(-25.286,0.000) scale(0.006348)" d="M780,0 L499,0 L499,-1018 Q345,-879 136,-813 L136,-1058 Q246,-1093 372,-1187 Q498,-1281 567,-1409 L780,-1409Z" fill="#000" stroke="#000" stroke-width="39.4"/>
<path transform="translate(197.6,358.80) scale(1,1.04) translate(-25.302,0.000) scale(0.006348)" d="M780,0 L499,0 L499,-1018 Q345,-879 136,-813 L136,-1058 Q246,-1093 372,-1187 Q498,-1281 567,-1409 L780,-1409Z" fill="#000" stroke="#000" stroke-width="39.4"/>
<path transform="translate(197.6,358.80) scale(1,1.04) translate(-14.458,0.000) scale(0.006348)" d="M780,0 L499,0 L499,-1018 Q345,-879 136,-813 L136,-1058 Q246,-1093 372,-1187 Q498,-1281 567,-1409 L780,-1409Z" fill="#000" stroke="#000" stroke-width="39.4"/>
<path transform="translate(197.6,318.70) scale(1,1.04) translate(-25.302,0.000) scale(0.006348)" d="M780,0 L499,0 L499,-1018 Q345,-879 136,-813 L136,-1058 Q246,-1093 372,-1187 Q498,-1281 567,-1409 L780,-1409Z" fill="#000" stroke="#000" stroke-width="39.4"/>
<path transform="translate(197.6,318.70) scale(1,1.04) translate(-14.458,0.000) scale(0.006348)" d="M780,0 L499,0 L499,-1018 Q345,-879 136,-813 L136,-1058 Q246,-1093 372,-1187 Q498,-1281 567,-1409 L780,-1409Z" fill="#000" stroke="#000" stroke-width="39.4"/>
<path transform="translate(197.6,278.60) scale(1,1.04) translate(-25.286,0.000) scale(0.006348)" d="M780,0 L499,0 L499,-1018 Q345,-879 136,-813 L136,-1058 Q246,-1093 372,-1187 Q498,-1281 567,-1409 L780,-1409Z" fill="#000" stroke="#000" stroke-width="39.4"/>
<path transform="translate(217.00,479.40000000000003) rotate(45) scale(1,1.04) translate(0.000,0.000) scale(0.006006)" d="M780,0 L499,0 L499,-1018 Q345,-879 136,-813 L136,-1058 Q246,-1093 372,-1187 Q498,-1281 567,-1409 L780,-1409Z" fill="#000" stroke="#000" stroke-width="41.6"/>
<path transform="translate(387.10,479.40000000000003) rotate(45) scale(1,1.04) translate(0.000,0.000) scale(0.006006)" d="M780,0 L499,0 L499,-1018 Q345,-879 136,-813 L136,-1058 Q246,-1093 372,-1187 Q498,-1281 567,-1409 L780,-1409Z" fill="#000" stroke="#000" stroke-width="41.6"/>
<path transform="translate(406.00,479.40000000000003) rotate(45) scale(1,1.04) translate(0.000,0.000) scale(0.006006)" d="M780,0 L499,0 L499,-1018 Q345,-879 136,-813 L136,-1058 Q246,-1093 372,-1187 Q498,-1281 567,-1409 L780,-1409Z" fill="#000" stroke="#000" stroke-width="41.6"/>
<path transform="translate(406.00,479.40000000000003) rotate(45) scale(1,1.04) translate(6.846,0.000) scale(0.006006)" d="M780,0 L499,0 L499,-1018 Q345,-879 136,-813 L136,-1058 Q246,-1093 372,-1187 Q498,-1281 567,-1409 L780,-1409Z" fill="#000" stroke="#000" stroke-width="41.6"/>
<path transform="translate(424.90,479.40000000000003) rotate(45) scale(1,1.04) translate(0.000,0.000) scale(0.006006)" d="M780,0 L499,0 L499,-1018 Q345,-879 136,-813 L136,-1058 Q246,-1093 372,-1187 Q498,-1281 567,-1409 L780,-1409Z" fill="#000" stroke="#000" stroke-width="41.6"/>
<path transform="translate(443.80,479.40000000000003) rotate(45) scale(1,1.04) translate(0.000,0.000) scale(0.006006)" d="M780,0 L499,0 L499,-1018 Q345,-879 136,-813 L136,-1058 Q246,-1093 372,-1187 Q498,-1281 567,-1409 L780,-1409Z" fill="#000" stroke="#000" stroke-width="41.6"/>
<path transform="translate(462.70,479.40000000000003) rotate(45) scale(1,1.04) translate(0.000,0.000) scale(0.006006)" d="M780,0 L499,0 L499,-1018 Q345,-879 136,-813 L136,-1058 Q246,-1093 372,-1187 Q498,-1281 567,-1409 L780,-1409Z" fill="#000" stroke="#000" stroke-width="41.6"/>
<path transform="translate(541.0,314.2) scale(1,1.04) translate(0.000,0.000) scale(0.004004)" d="M780,0 L499,0 L499,-1018 Q345,-879 136,-813 L136,-1058 Q246,-1093 372,-1187 Q498,-1281 567,-1409 L780,-1409Z" fill="#000" stroke="#000" stroke-width="62.4"/>
</svg>
</body></html>
